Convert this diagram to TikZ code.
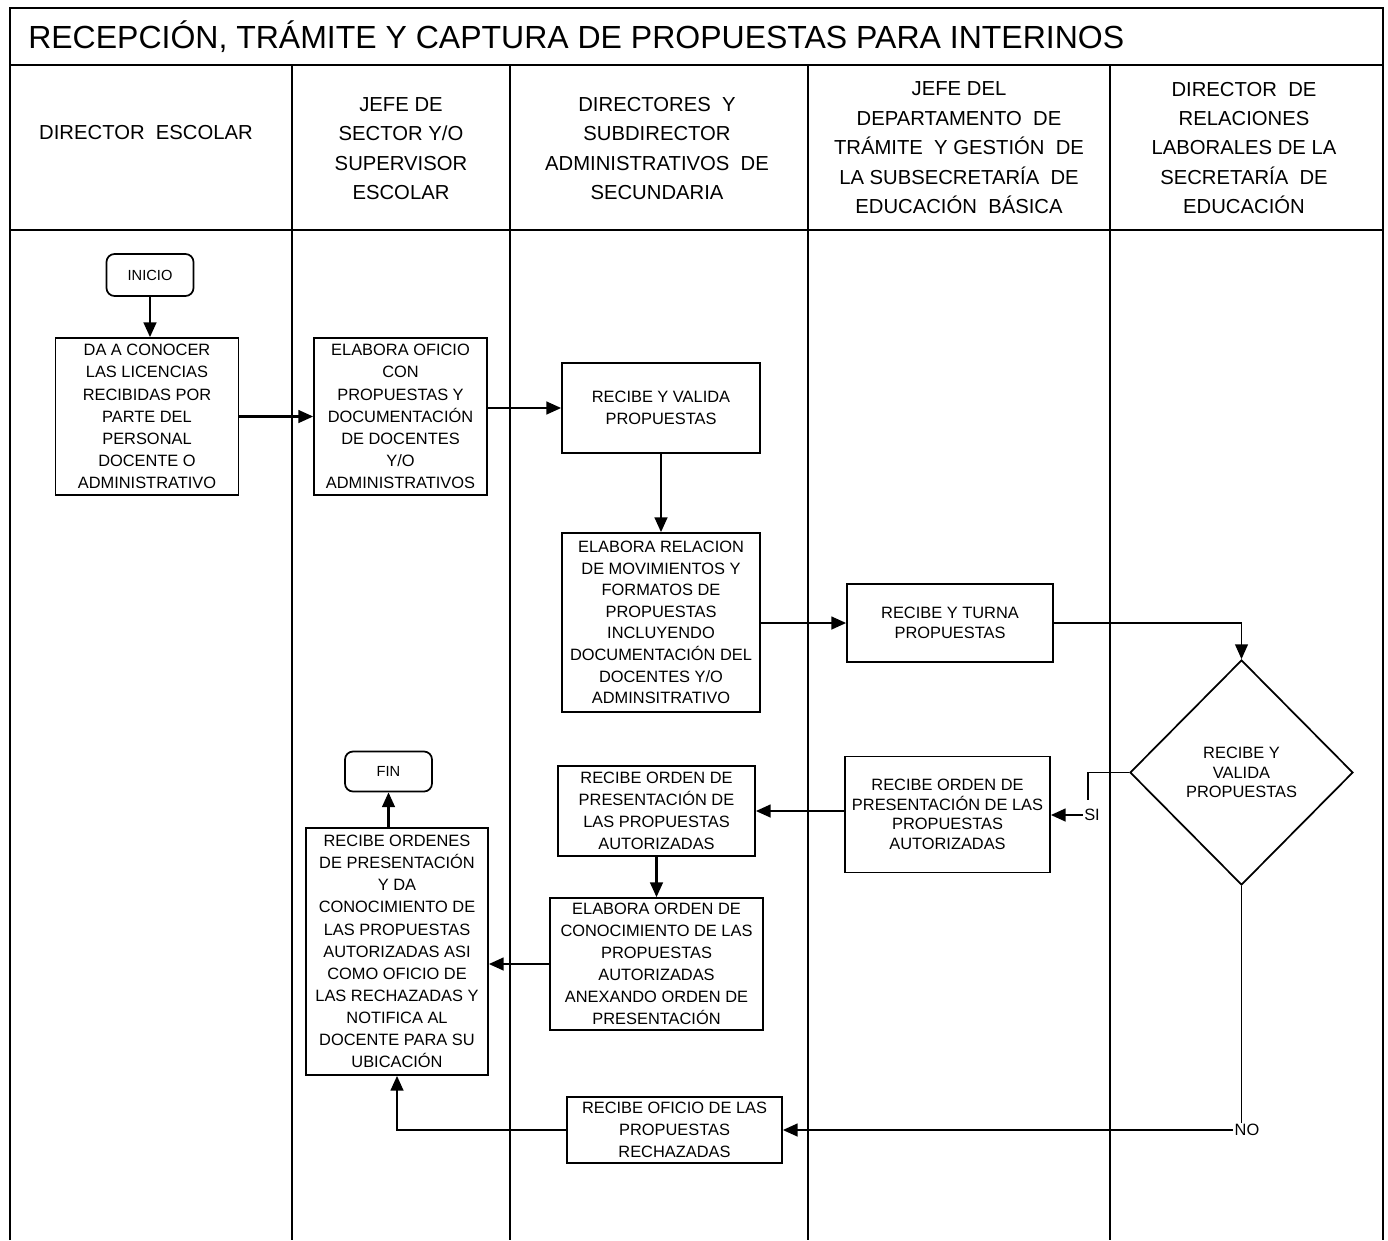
\documentclass[tikz,border=0pt]{standalone}
\usepackage{fontspec}
\setmainfont{Liberation Sans}
\usetikzlibrary{arrows.meta,shapes.geometric}
\begin{document}
\begin{tikzpicture}[x=0.75pt,y=-0.75pt,
  box/.style={draw,line width=1.3pt,inner sep=0pt,align=center,font=\fontsize{12.3}{16.6}\selectfont},
  term/.style={box,rounded corners=6pt,font=\fontsize{11}{13}\selectfont},
  hdr/.style={align=center,font=\fontsize{15.2}{22.1}\selectfont},
  arr/.style={line width=1.6pt,-{Triangle[length=11pt,width=9.5pt]}},
  ln/.style={line width=1.1pt},
  frame/.style={line width=1.4pt},
  lbl/.style={inner sep=1pt,font=\fontsize{12.3}{14}\selectfont}]
\useasboundingbox (0,0) rectangle (1388,1240);
\fill[white] (0,0) rectangle (1388,1240);
% frame
\draw[frame] (10,1240) -- (10,8) -- (1383,8) -- (1383,1240);
\draw[frame] (10,65) -- (1383,65);
\draw[frame] (10,230) -- (1383,230);
\draw[line width=1.2pt] (292,65) -- (292,1240);
\draw[line width=1.9pt] (510,65) -- (510,1240);
\draw[line width=1.8pt] (808,65) -- (808,1240);
\draw[line width=0.9pt] (1110,65) -- (1110,1240);
% title
\node[anchor=west,inner sep=0pt,font=\fontsize{24}{28}\selectfont] (title) at (28,37) {RECEPCIÓN, TRÁMITE Y CAPTURA DE PROPUESTAS PARA INTERINOS};
% headers
\node[hdr] (h1) at (146,133) {DIRECTOR\ \ ESCOLAR};
\node[hdr] (h2) at (401,148.5) {JEFE DE\\SECTOR Y/O\\SUPERVISOR\\ESCOLAR};
\node[hdr] (h3) at (657,148.5) {DIRECTORES\ \ Y\\SUBDIRECTOR\\ADMINISTRATIVOS\ \ DE\\SECUNDARIA};
\node[hdr] (h4) at (959,148) {JEFE DEL\\DEPARTAMENTO\ \ DE\\TRÁMITE\ \ Y GESTIÓN\ \ DE\\LA SUBSECRETARÍA\ \ DE\\EDUCACIÓN\ \ BÁSICA};
\node[hdr] (h5) at (1244,148) {DIRECTOR\ \ DE\\RELACIONES\\LABORALES DE LA\\SECRETARÍA\ \ DE\\EDUCACIÓN};
% nodes
\node[term,minimum width=65.25pt,minimum height=31.5pt] (inicio) at (150,275) {INICIO};
\node[box,minimum width=137.25pt,minimum height=117.75pt] (da) at (147,416.5) {DA A CONOCER\\LAS LICENCIAS\\RECIBIDAS POR\\PARTE DEL\\PERSONAL\\DOCENTE O\\ADMINISTRATIVO};
\node[box,minimum width=129.75pt,minimum height=117.75pt] (oficio) at (400.5,416.5) {ELABORA OFICIO\\CON\\PROPUESTAS Y\\DOCUMENTACIÓN\\DE DOCENTES\\Y/O\\ADMINISTRATIVOS};
\node[box,minimum width=148.5pt,minimum height=67.5pt] (valida) at (661,408) {RECIBE Y VALIDA\\PROPUESTAS};
\node[box,minimum width=148.5pt,minimum height=134.25pt,font=\fontsize{12.3}{16.2}\selectfont] (relacion) at (661,622.5) {ELABORA RELACION\\DE MOVIMIENTOS Y\\FORMATOS DE\\PROPUESTAS\\INCLUYENDO\\DOCUMENTACIÓN DEL\\DOCENTES Y/O\\ADMINSITRATIVO};
\node[box,minimum width=154.5pt,minimum height=58.5pt,font=\fontsize{12.3}{14.6}\selectfont] (turna) at (950,623) {RECIBE Y TURNA\\PROPUESTAS};
\node[box,diamond,minimum width=167.25pt,minimum height=168.75pt,font=\fontsize{12.3}{14.6}\selectfont] (dec) at (1241.5,772.5) {RECIBE Y\\VALIDA\\PROPUESTAS};
\node[box,minimum width=153.75pt,minimum height=87pt,font=\fontsize{12.3}{14.6}\selectfont] (ord4) at (947.5,814.5) {RECIBE ORDEN DE\\PRESENTACIÓN DE LAS\\PROPUESTAS\\AUTORIZADAS};
\node[box,minimum width=147.75pt,minimum height=67.5pt] (ord3) at (656.5,811) {RECIBE ORDEN DE\\PRESENTACIÓN DE\\LAS PROPUESTAS\\AUTORIZADAS};
\node[box,minimum width=159.75pt,minimum height=99pt] (conoc) at (656.5,964) {ELABORA ORDEN DE\\CONOCIMIENTO DE LAS\\PROPUESTAS\\AUTORIZADAS\\ANEXANDO ORDEN DE\\PRESENTACIÓN};
\node[box,minimum width=136.5pt,minimum height=185.25pt] (big) at (397,951.5) {RECIBE ORDENES\\DE PRESENTACIÓN\\Y DA\\CONOCIMIENTO DE\\LAS PROPUESTAS\\AUTORIZADAS ASI\\COMO OFICIO DE\\LAS RECHAZADAS Y\\NOTIFICA AL\\DOCENTE PARA SU\\UBICACIÓN};
\node[term,minimum width=65.25pt,minimum height=30pt] (fin) at (388.5,771.5) {FIN};
\node[box,minimum width=161.25pt,minimum height=49.5pt] (rech) at (674.5,1130) {RECIBE OFICIO DE LAS\\PROPUESTAS\\RECHAZADAS};
\node[lbl] (si) at (1092,815) {SI};
\node[lbl] (no) at (1247,1130) {NO};
\coordinate (sibend) at (1088,800);
% connectors
\draw[arr] (inicio.south) -- (inicio.south |- da.north);
\draw[arr] (da.east) -- (oficio.west);
\draw[arr] (oficio.east |- valida.west) -- (valida.west);
\draw[arr] (valida.south) -- (relacion.north);
\draw[arr] (relacion.east |- turna.west) -- (turna.west);
\draw[arr,line width=1.2pt] (turna.east) -| (dec.north);
\draw[ln] (dec.west) -| (sibend);
\draw[arr] (si.west) -- (si.west -| ord4.east);
\draw[arr] (ord4.west |- ord3.east) -- (ord3.east);
\draw[arr] (ord3.south) -- (ord3.south |- conoc.north);
\draw[arr] (conoc.west) -- (conoc.west -| big.east);
\draw[arr] (fin.south |- big.north) -- (fin.south);
\draw[ln] (dec.south) -- (dec.south |- no.north);
\draw[arr] (no.west) -- (no.west -| rech.east);
\draw[arr] (rech.west) -| (big.south);
\end{tikzpicture}
\end{document}
